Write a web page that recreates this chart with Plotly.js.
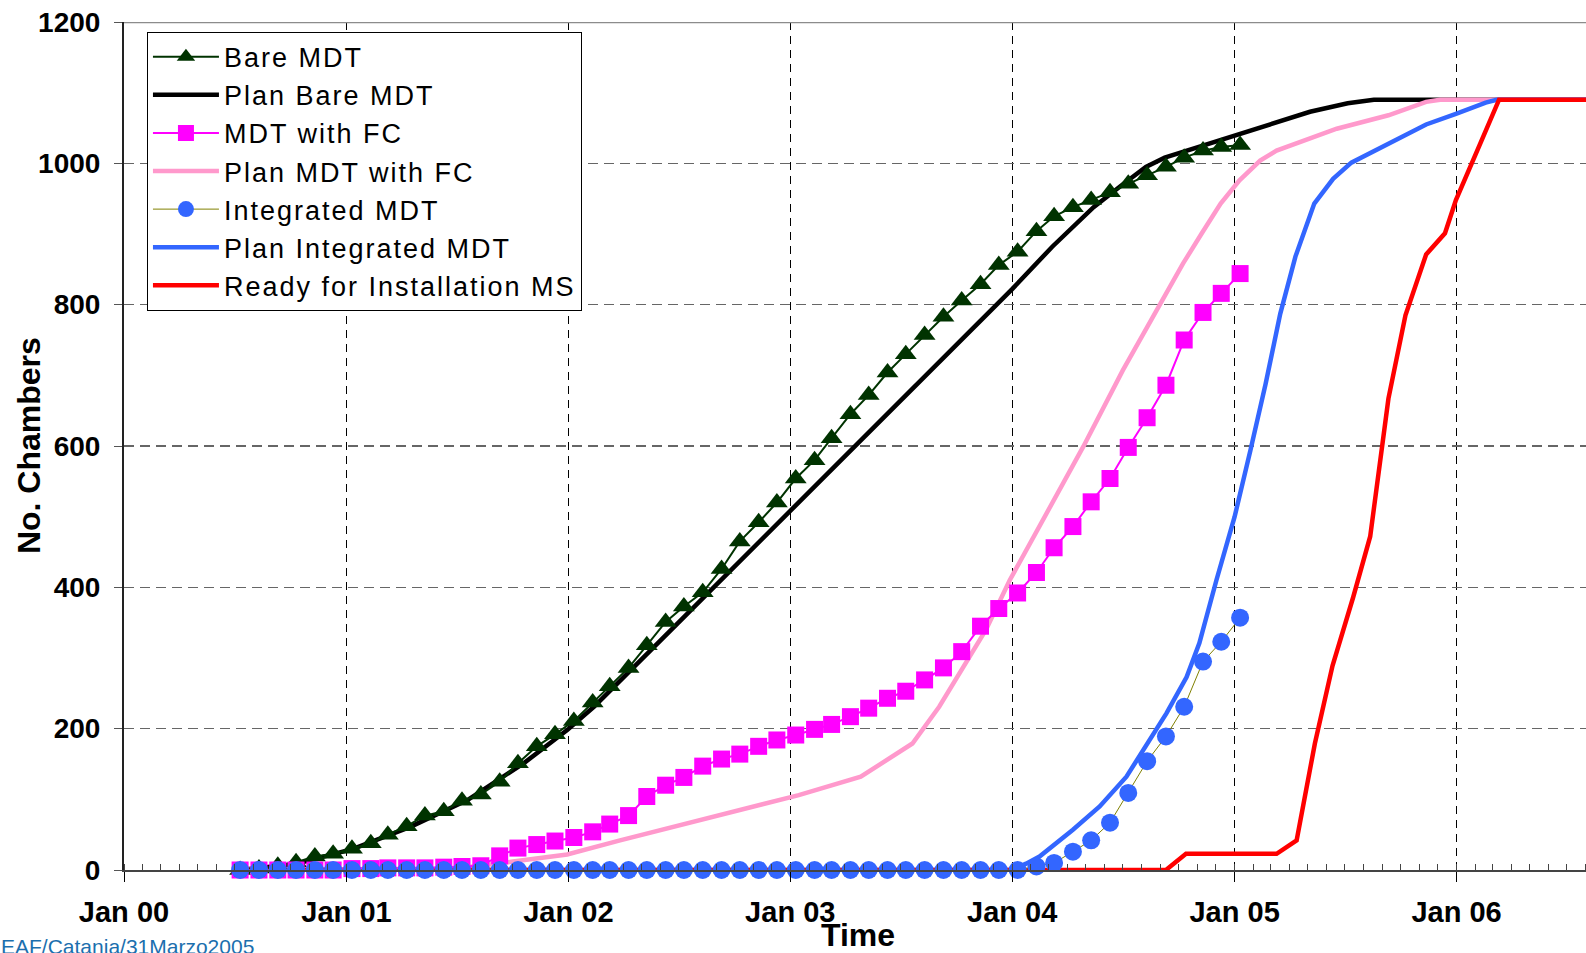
<!DOCTYPE html>
<html><head><meta charset="utf-8">
<script src="https://cdn.plot.ly/plotly-3.0.1.min.js"></script>
<style>html,body{margin:0;padding:0;background:#fff;}#chart{width:1586px;height:953px;}
.legendtext{letter-spacing:2px;}</style>
</head><body><div id="chart"></div>
<script>
// Monthly measurement dates (Jul 2000 - Jan 2005)
const months = [
 '2000-07-10','2000-08-10','2000-09-10','2000-10-10','2000-11-10','2000-12-10',
 '2001-01-10','2001-02-10','2001-03-10','2001-04-10','2001-05-10','2001-06-10',
 '2001-07-10','2001-08-10','2001-09-10','2001-10-10','2001-11-10','2001-12-10',
 '2002-01-10','2002-02-10','2002-03-10','2002-04-10','2002-05-10','2002-06-10',
 '2002-07-10','2002-08-10','2002-09-10','2002-10-10','2002-11-10','2002-12-10',
 '2003-01-10','2003-02-10','2003-03-10','2003-04-10','2003-05-10','2003-06-10',
 '2003-07-10','2003-08-10','2003-09-10','2003-10-10','2003-11-10','2003-12-10',
 '2004-01-10','2004-02-10','2004-03-10','2004-04-10','2004-05-10','2004-06-10',
 '2004-07-10','2004-08-10','2004-09-10','2004-10-10','2004-11-10','2004-12-10',
 '2005-01-10'
];
const bareMDT = [0,2,6,11,19,23,30,38,50,62,77,83,98,107,125,151,175,192,211,237,
 260,286,318,351,373,393,426,465,492,520,554,580,611,645,672,704,730,757,783,806,
 829,856,875,904,925,938,948,959,971,983,995,1008,1018,1023,1026];
const mdtWithFC = [0,0,0,0,0,0,2,2,3,3,3,4,5,6,20,31,36,41,46,54,
 65,77,104,120,131,147,157,164,175,184,191,199,206,217,229,243,253,269,286,309,
 345,370,392,421,456,486,521,554,598,640,686,750,789,816,844];
const integratedMDT = [0,0,0,0,0,0,0,0,0,0,0,0,0,0,0,0,0,0,0,0,
 0,0,0,0,0,0,0,0,0,0,0,0,0,0,0,0,0,0,0,0,
 0,0,0,5,10,26,42,67,109,154,189,231,295,323,357];

// Plan curves
const planBareDates = ['2000-07-10','2000-10-12','2001-01-12','2001-04-16','2001-07-19','2001-10-21',
 '2001-12-30','2002-02-12','2002-07-01','2003-01-01','2003-07-02','2004-01-01','2004-03-07','2004-05-14',
 '2004-06-26','2004-08-08','2004-09-08','2004-10-15','2004-12-27','2005-02-26','2005-05-05','2005-07-06',
 '2005-08-18','2006-09-01'];
const planBareValues = [0,9,30,61,99,152,198,231,350,508,665,822,882,938,967,995,1008,1018,1038,1054,1073,1085,1090,1090];

const planFCDates = ['2000-07-10','2001-07-01','2001-10-02','2001-12-30','2002-03-27','2002-07-25','2003-01-15',
 '2003-04-27','2003-06-29','2003-07-21','2003-09-03','2003-10-17','2003-11-19','2003-12-28','2004-04-27',
 '2004-07-01','2004-09-01','2004-10-08','2004-11-08','2004-12-09','2005-01-09','2005-02-12','2005-03-11',
 '2005-06-18','2005-09-11','2005-11-12','2005-12-05','2006-09-01'];
const planFCValues = [0,2,12,22,42,68,106,132,167,179,231,292,340,410,599,707,802,858,901,943,976,1004,1018,
 1049,1068,1087,1090,1090];

const planIntDates = ['2000-07-10','2004-01-01','2004-01-24','2004-02-15','2004-04-10','2004-05-24','2004-07-07',
 '2004-08-20','2004-09-11','2004-10-14','2004-11-04','2004-12-02','2005-01-01','2005-01-27','2005-02-21',
 '2005-03-17','2005-04-11','2005-05-12','2005-06-12','2005-07-12','2005-09-12','2005-11-12','2005-12-31',
 '2006-02-18','2006-03-08','2006-09-01'];
const planIntValues = [0,0,9,19,57,90,132,193,222,273,321,410,500,594,688,787,868,943,978,1001,1029,1055,1070,
 1086,1090,1090];

const readyDates = ['2000-07-10','2004-09-10','2004-10-13','2005-03-11','2005-04-13','2005-05-02','2005-05-13',
 '2005-06-11','2005-07-15','2005-08-12','2005-09-11','2005-10-09','2005-11-12','2005-12-13','2005-12-31',
 '2006-02-09','2006-03-12','2006-09-01'];
const readyValues = [0,0,23,23,42,127,179,289,386,472,667,785,871,901,948,1028,1090,1090];

const seriesNames = ['Bare MDT','Plan Bare MDT','MDT with FC','Plan MDT with FC','Integrated MDT',
 'Plan Integrated MDT','Ready for Installation MS'];
const xTitle = 'Time';
const yTitle = 'No. Chambers';
const footer = 'EAF/Catania/31Marzo2005';

const FONT = '"Liberation Sans", Arial, Helvetica, sans-serif';

const traces = [
 {name: seriesNames[1], x: planBareDates, y: planBareValues, mode:'lines', legendrank:2,
  line:{color:'#000000', width:4.5}},
 {name: seriesNames[3], x: planFCDates, y: planFCValues, mode:'lines', legendrank:4,
  line:{color:'#ff99cc', width:4.5}},
 {name: seriesNames[5], x: planIntDates, y: planIntValues, mode:'lines', legendrank:6,
  line:{color:'#3366ff', width:4.5}},
 {name: seriesNames[6], x: readyDates, y: readyValues, mode:'lines', legendrank:7,
  line:{color:'#ff0000', width:4.5}},
 {name: seriesNames[0], x: months, y: bareMDT, mode:'lines+markers', legendrank:1, cliponaxis:false,
  line:{color:'#003300', width:2}, marker:{symbol:'triangle-up', size:19, color:'#003300'}},
 {name: seriesNames[2], x: months, y: mdtWithFC, mode:'lines+markers', legendrank:3, cliponaxis:false,
  line:{color:'#ff00ff', width:2}, marker:{symbol:'square', size:17, color:'#ff00ff'}},
 {name: seriesNames[4], x: months, y: integratedMDT, mode:'lines+markers', legendrank:5, cliponaxis:false,
  line:{color:'#808000', width:1}, marker:{symbol:'circle', size:18, color:'#3366ff'}}
];

const layout = {
 width:1586, height:953,
 margin:{l:124, r:0, t:22, b:83, pad:0},
 paper_bgcolor:'#ffffff', plot_bgcolor:'#ffffff',
 showlegend:true,
 legend:{x:0.0157, y:0.9886, xanchor:'left', yanchor:'top', bgcolor:'#ffffff',
  bordercolor:'#000000', borderwidth:1, font:{family:FONT, size:27, color:'#000'},
  itemwidth:66, traceorder:'normal'},
 xaxis:{type:'date', range:['2000-01-01','2006-08-02'], tick0:'2000-01-01', dtick:'M12',
  tickformat:'%b %y', ticks:'outside', ticklen:10, tickcolor:'#000', tickwidth:1,
  showgrid:true, gridcolor:'#000000', griddash:'8px,6px', gridwidth:1,
  showline:true, linecolor:'#444', linewidth:2, zeroline:false,
  tickfont:{family:FONT, size:29, weight:700, color:'#000'}, ticklabelstandoff:5,
  minor:{ticks:'inside', ticklen:6, dtick:'M1', tick0:'2000-01-01', tickcolor:'#444', tickwidth:1, showgrid:false}},
 yaxis:{range:[0,1200], tick0:0, dtick:200, ticks:'outside', ticklen:8, tickcolor:'#555', tickwidth:1,
  showgrid:true, gridcolor:'#666666', griddash:'10px,6px', gridwidth:1.5,
  showline:true, linecolor:'#222', linewidth:2, zeroline:false,
  tickfont:{family:FONT, size:28, weight:700, color:'#000'}, ticklabelstandoff:8},
 shapes:[{type:'line', xref:'paper', x0:0, x1:1, yref:'y', y0:1200, y1:1200,
  line:{color:'#8c8c8c', width:2.5}}],
 annotations:[
  {text:yTitle, xref:'paper', yref:'paper', x:-0.065, y:0.501, xanchor:'center', yanchor:'middle',
   textangle:-90, showarrow:false, font:{family:FONT, size:32, weight:700, color:'#000'}},
  {text:xTitle, xref:'paper', yref:'paper', x:0.502, y:-0.0535, xanchor:'center', yanchor:'top',
   showarrow:false, font:{family:FONT, size:32, weight:700, color:'#000'}},
  {text:footer, xref:'paper', yref:'paper', x:-0.0855, y:-0.074,
   xanchor:'left', yanchor:'top', showarrow:false, font:{family:FONT, size:21, color:'#1b6fae'}}]
};

Plotly.newPlot('chart', traces, layout, {displayModeBar:false, staticPlot:true});
</script>
</body></html>
